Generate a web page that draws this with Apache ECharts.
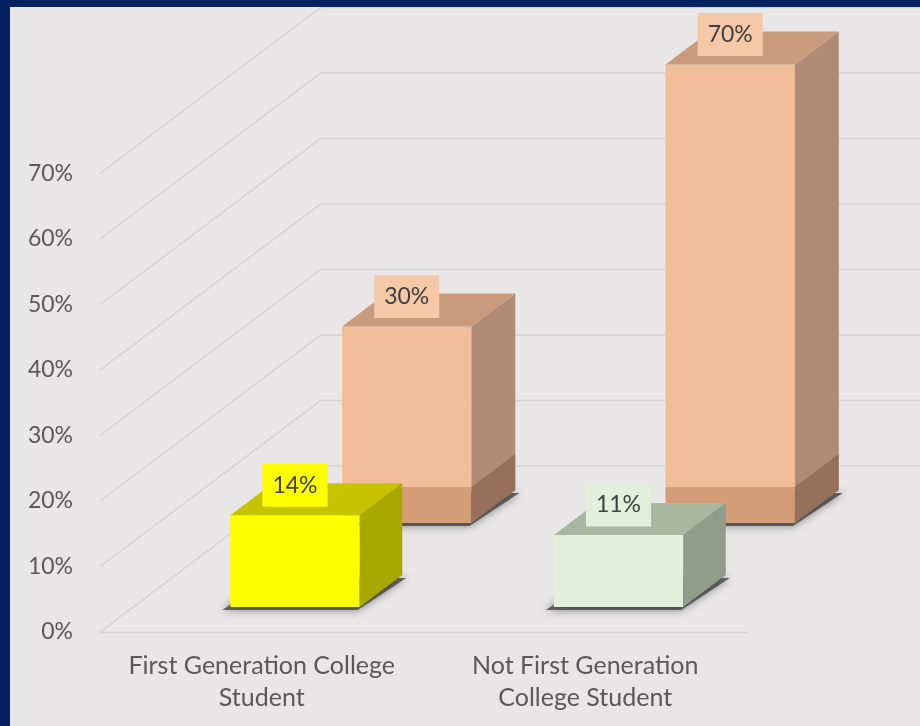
<!DOCTYPE html>
<html><head><meta charset="utf-8">
<script src="https://cdn.jsdelivr.net/npm/echarts@6/dist/echarts.min.js"></script>
<style>html,body{margin:0;padding:0;background:#e8e6e7}#c{width:920px;height:726px}</style>
</head><body><div id="c"></div>
<script>
// ---- data ----
const categories = ['First Generation College\nStudent', 'Not First Generation\nCollege Student'];
const frontValues = [14, 11];   // front row of 3D columns
const backValues = [30, 70];    // back row of 3D columns
const yTicks = [0, 10, 20, 30, 40, 50, 60, 70];

// ---- styling / projection ----
const K = 1.33;            // horizontal shift per unit of depth
const WALL = 166;          // depth of back wall
const FRONT_ROW = [25, 57];
const BACK_ROW = [109, 142];
const FONT = 'Lato, "Open Sans", sans-serif';
const frontPal = [
  {front:'#ffff00', top:'#c6c400', side:'#a9a800', label:'#ffff00', band:null},
  {front:'#e2efda', top:'#a9b7a1', side:'#909d8a', label:'#e2efda', band:null}
];
const backPal = [
  {front:'#f2be9a', top:'#c99a7b', side:'#b08c76', label:'#f5c8a8', band:true},
  {front:'#f2be9a', top:'#c99a7b', side:'#b08c76', label:'#f5c8a8', band:true}
];

function barRenderer(row, pals) {
  return function (params, api) {
    const ci = api.value(0), v = api.value(1);
    const top = api.coord([ci, v]);
    const base = api.coord([ci, 0]);
    const w = api.size([1, 0])[0] * 0.4;
    const z0 = row[0], d = row[1] - row[0];
    const x0 = top[0] - w / 2 + K * z0, x1 = x0 + w;
    const yt = top[1] - z0, yb = base[1] - z0;
    const dx = K * d, dy = -d;
    const pal = pals[params.dataIndex];
    const ch = [];
    // soft shadow of footprint
    ch.push({type:'polygon', shape:{points:[[x0-8,yb+3],[x1-2,yb+3],[x1+dx+4,yb+dy+3],[x0+dx-4,yb+dy+3]]},
      style:{fill:'rgba(60,60,60,0.75)', shadowBlur:8, shadowColor:'rgba(0,0,0,0.6)'}});
    ch.push({type:'rect', shape:{x:x0, y:yt, width:w, height:yb-yt}, style:{fill:pal.front}});
    ch.push({type:'polygon', shape:{points:[[x0,yt],[x1,yt],[x1+dx,yt+dy],[x0+dx,yt+dy]]}, style:{fill:pal.top}});
    ch.push({type:'polygon', shape:{points:[[x1,yt],[x1+dx,yt+dy],[x1+dx,yb+dy],[x1,yb]]}, style:{fill:pal.side}});
    if (pal.band) {
      const bh = 36;
      ch.push({type:'rect', shape:{x:x0, y:yb-bh, width:w, height:bh}, style:{fill:'rgba(120,60,20,0.25)'}});
      ch.push({type:'polygon', shape:{points:[[x1,yb-bh],[x1+dx,yb-bh+dy],[x1+dx,yb+dy],[x1,yb]]}, style:{fill:'rgba(90,50,25,0.3)'}});
    }
    ch.push({type:'text', z2:10, style:{text: v + '%', x: x0 + w / 2, y: yt - 30, align:'center', verticalAlign:'middle',
      font:'23px ' + FONT, fill:'#404040', backgroundColor: pal.label, padding:[11, 10, 9, 10]}});
    return {type:'group', children: ch};
  };
}

function wallRenderer(params, api) {
  const p = api.coord([0, api.value(1)]);
  const x0 = params.coordSys.x, y = p[1];
  return {type:'polyline', shape:{points:[[x0, y],[x0 + K * WALL, y - WALL],[x0 + K * WALL + 2000, y - WALL]]},
    style:{stroke:'#d4d2d3', lineWidth:1.3, fill:null}};
}

const chart = echarts.init(document.getElementById('c'));
chart.setOption({
  animation:false,
  backgroundColor:'#e8e6e7',
  grid:{left:100, right:173, top:173.5, bottom:94, containLabel:false},
  xAxis:{type:'category', data:categories, boundaryGap:true,
    axisLine:{show:true, lineStyle:{color:'#d4d2d3', width:1.3}}, axisTick:{show:false},
    axisLabel:{color:'#595959', fontFamily:FONT, fontSize:25, lineHeight:32, margin:18, interval:0}},
  yAxis:{type:'value', min:0, max:70, interval:10,
    axisLine:{show:false}, axisTick:{show:false}, splitLine:{show:false},
    axisLabel:{formatter:'{value}%', color:'#595959', fontFamily:FONT, fontSize:23, margin:27}},
  graphic:[
    {type:'rect', z:100, shape:{x:0, y:0, width:920, height:7}, style:{fill:'#03205f'}},
    {type:'rect', z:100, shape:{x:0, y:0, width:10, height:726}, style:{fill:'#03205f'}}
  ],
  series:[
    {type:'custom', z:1, clip:false, silent:true, renderItem:wallRenderer,
      data: yTicks.map(v => [0, v]), encode:{x:0, y:1}},
    {type:'custom', z:2, clip:false, renderItem:barRenderer(BACK_ROW, backPal),
      data: backValues.map((v, i) => [i, v]), encode:{x:0, y:1}},
    {type:'custom', z:3, clip:false, renderItem:barRenderer(FRONT_ROW, frontPal),
      data: frontValues.map((v, i) => [i, v]), encode:{x:0, y:1}}
  ]
});
</script></body></html>
